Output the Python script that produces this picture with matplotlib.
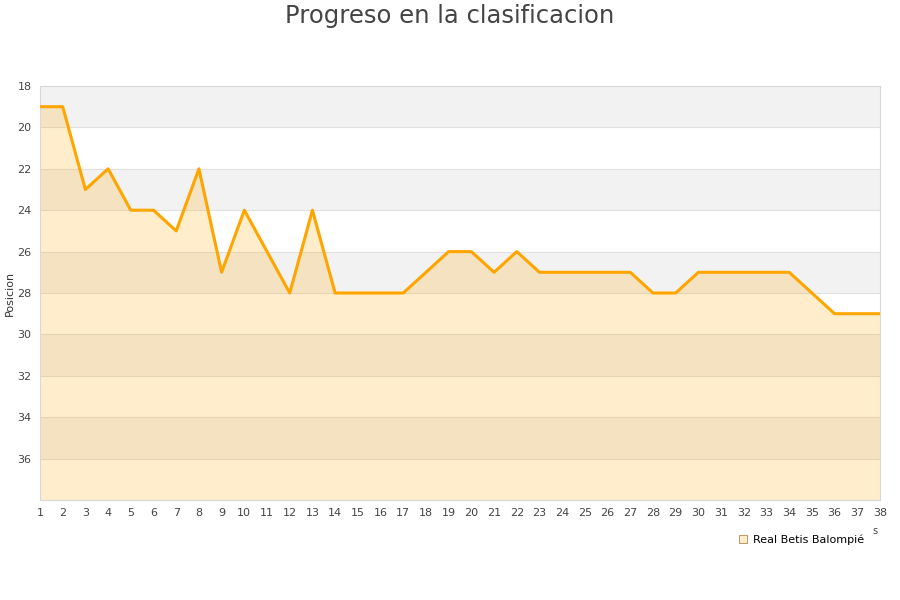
import numpy as np
import matplotlib.pyplot as plt
from matplotlib.lines import Line2D

# Jornada vs posicion
jornadas = list(range(1, 39))
posicion = [19, 19, 23, 22, 24, 24, 25, 22, 27, 24,
            26, 28, 24, 28, 28, 28, 28, 27, 26, 26,
            27, 26, 27, 27, 27, 27, 27, 28, 28, 27,
            27, 27, 27, 27, 28, 29, 29, 29]
equipo = "Real Betis Balompié"
y_ticks = [18, 20, 22, 24, 26, 28, 30, 32, 34, 36]

fig = plt.figure(figsize=(9, 6), dpi=100)
ax = fig.add_axes([40 / 900, 1 - 500 / 600, 840 / 900, 414 / 600])

ymin, ymax = 18, 38
# alternating background bands
for k, y0 in enumerate(range(ymin, ymax, 2)):
    if k % 2 == 0:
        ax.axhspan(y0, y0 + 2, color="#f2f2f2", zorder=0, lw=0)
for y in range(ymin + 2, ymax, 2):
    ax.axhline(y, color="#e0e0e0", lw=0.8, zorder=1)

ax.fill_between(jornadas, posicion, ymax, color="#ffa500", alpha=0.2, lw=0, zorder=2)
ax.plot(jornadas, posicion, color="#ffa500", lw=2.2, zorder=3)

ax.set_xlim(1, 38)
ax.set_ylim(ymax, ymin)
ax.set_xticks(jornadas)
ax.set_yticks(y_ticks)
ax.tick_params(length=0, labelsize=8, colors="#444444", pad=6)
for s in ax.spines.values():
    s.set_color("#d8d8d8")
ax.set_ylabel("Posicion", fontsize=8, color="#333333", labelpad=2)

fig.text(0.5, 1 - 16 / 600, "Progreso en la clasificacion", ha="center", va="center",
         fontsize=17.5, color="#444444")
fig.text(875 / 900, 1 - 531 / 600, "s", ha="center", va="center", fontsize=7, color="#444444")

handle = Line2D([], [], ls="none", marker="s", markersize=6,
                markerfacecolor="#ffedcc", markeredgecolor="#b08850", markeredgewidth=0.6)
fig.legend([handle], [equipo], loc="center left", bbox_to_anchor=(727 / 900, 1 - 540 / 600),
           frameon=False, fontsize=8, handletextpad=0.4, handlelength=1)

fig.savefig("out.png", dpi=100)
